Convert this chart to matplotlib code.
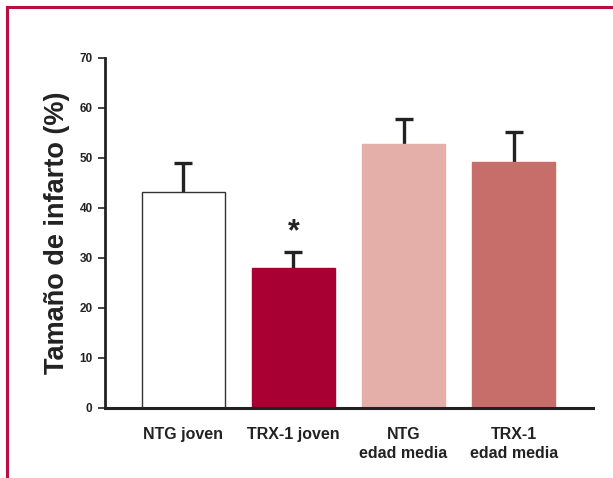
import matplotlib
matplotlib.use("Agg")
import matplotlib.pyplot as plt
from matplotlib.lines import Line2D

categories = ["NTG joven", "TRX-1 joven", "NTG\nedad media", "TRX-1\nedad media"]
values = [43.2, 28.0, 52.8, 49.2]
errors = [5.8, 3.2, 5.0, 6.0]
colors = ["#FFFFFF", "#A80032", "#E3AFA8", "#C86E6A"]
edgecolors = ["#333333", "#A80032", "#E3AFA8", "#C86E6A"]
yticks = [0, 10, 20, 30, 40, 50, 60, 70]
star_y = 35.2

plt.rcParams['font.family'] = ['Liberation Sans', 'DejaVu Sans']

fig = plt.figure(figsize=(6.13, 4.78), dpi=100)
ax = fig.add_axes([105/613, 1-408/478, (593-105)/613, (408-58)/478])

x = list(range(len(categories)))
ax.bar(x, values, width=0.755, color=colors, edgecolor=edgecolors, linewidth=1.0, zorder=2)
ax.errorbar(x, values, yerr=errors, fmt='none', ecolor='#222222',
            elinewidth=2.4, capsize=6.5, capthick=2.4, zorder=1)
ax.text(1, star_y, "*", ha='center', va='center', fontsize=22, fontweight='bold', color='#222222')

ax.set_xlim(-0.71, 3.72)
ax.set_ylim(0, 70)
ax.set_yticks(yticks)
ax.set_yticklabels([str(t) for t in yticks], fontsize=8.5, fontweight='bold', color='#222222')
ax.set_xticks(x)
ax.set_xticklabels(categories, fontsize=11.5, fontweight='bold', color='#222222', linespacing=1.3)
ax.tick_params(axis='x', length=0, pad=14)
ax.tick_params(axis='y', length=5, width=1.2, color='#222222', pad=4, direction='out')
for s in ['top', 'right']:
    ax.spines[s].set_visible(False)
ax.spines['left'].set_linewidth(2)
ax.spines['bottom'].set_linewidth(2.2)
ax.spines['left'].set_color('#222222')
ax.spines['bottom'].set_color('#222222')
ax.set_ylabel("Tamaño de infarto (%)", fontsize=19.5, fontweight='bold', color='#222222', labelpad=7)

# red frame (top and left)
fig.add_artist(Line2D([7/613, 7/613], [0, 1-7/478], transform=fig.transFigure, color='#B5103F', lw=2.2))
fig.add_artist(Line2D([7/613, 1], [1-7/478, 1-7/478], transform=fig.transFigure, color='#B5103F', lw=2.2))

fig.savefig("out.png", dpi=100)
